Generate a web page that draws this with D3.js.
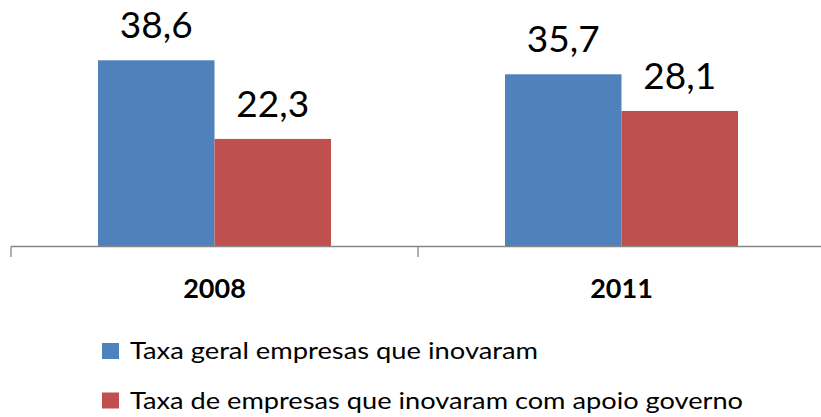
<!DOCTYPE html>
<html>
<head>
<meta charset="utf-8">
<script src="https://cdn.jsdelivr.net/npm/d3@7"></script>
<style>
  html, body { margin: 0; padding: 0; background: #fff; }
  svg { display: block; }
</style>
</head>
<body>
<svg id="chart" width="821" height="417"></svg>
<script>
const categories = ["2008", "2011"];
const seriesNames = ["Taxa geral empresas que inovaram", "Taxa de empresas que inovaram com apoio governo"];
const seriesValues = [
  [38.6, 35.7],
  [22.3, 28.1]
];
const seriesColors = ["#4F81BD", "#C0504D"];
const fmt = v => String(v).replace(".", ",");

const svg = d3.select("#chart");
const baseY = 246.5;

const x0 = d3.scaleBand().domain(categories).range([11, 825]).padding(0);
const x1 = d3.scaleBand().domain(d3.range(seriesNames.length))
  .range([87, x0.bandwidth() - 87]).padding(0);
const y = d3.scaleLinear().domain([0, 51.1]).range([baseY, 0]);

const groups = svg.selectAll("g.cat").data(categories).join("g")
  .attr("class", "cat")
  .attr("transform", d => `translate(${x0(d)},0)`);

groups.each(function(cat, ci) {
  const g = d3.select(this);
  seriesValues.forEach((vals, si) => {
    const v = vals[ci];
    g.append("rect")
      .attr("x", x1(si))
      .attr("y", y(v))
      .attr("width", x1.bandwidth())
      .attr("height", baseY - y(v))
      .attr("fill", seriesColors[si]);
    g.append("text")
      .attr("x", x1(si) + x1.bandwidth() / 2)
      .attr("y", y(v) - 22)
      .attr("text-anchor", "middle")
      .attr("font-family", "Lato, sans-serif")
      .attr("font-size", 37)
      .attr("fill", "#000")
      .text(fmt(v));
  });
});

// axis
const axisG = svg.append("g");
axisG.append("line")
  .attr("x1", x0.range()[0]).attr("x2", x0.range()[1])
  .attr("y1", baseY).attr("y2", baseY)
  .attr("stroke", "#868686").attr("stroke-width", 1.3);
const bounds = categories.map(c => x0(c)).concat([x0.range()[1]]);
axisG.selectAll("line.tick").data(bounds).join("line")
  .attr("class", "tick")
  .attr("x1", d => d).attr("x2", d => d)
  .attr("y1", baseY).attr("y2", 257)
  .attr("stroke", "#868686").attr("stroke-width", 1.3);
axisG.selectAll("text.cat").data(categories).join("text")
  .attr("class", "cat")
  .attr("x", d => x0(d) + x0.bandwidth() / 2)
  .attr("y", 298)
  .attr("text-anchor", "middle")
  .attr("font-family", "Lato, sans-serif")
  .attr("font-weight", "bold")
  .attr("font-size", 27)
  .attr("fill", "#000")
  .text(d => d);

// legend
const legend = svg.append("g");
const legY = [359, 408.5];
const legWidths = [408, 613];
seriesNames.forEach((name, i) => {
  legend.append("rect")
    .attr("x", 102).attr("y", legY[i] - 16)
    .attr("width", 17).attr("height", 16)
    .attr("fill", seriesColors[i]);
  legend.append("text")
    .attr("x", 130).attr("y", legY[i])
    .attr("font-family", "Lato, sans-serif")
    .attr("font-size", 24)
    .attr("fill", "#000")
    .attr("textLength", legWidths[i])
    .attr("lengthAdjust", "spacingAndGlyphs")
    .text(name);
});
</script>
</body>
</html>
